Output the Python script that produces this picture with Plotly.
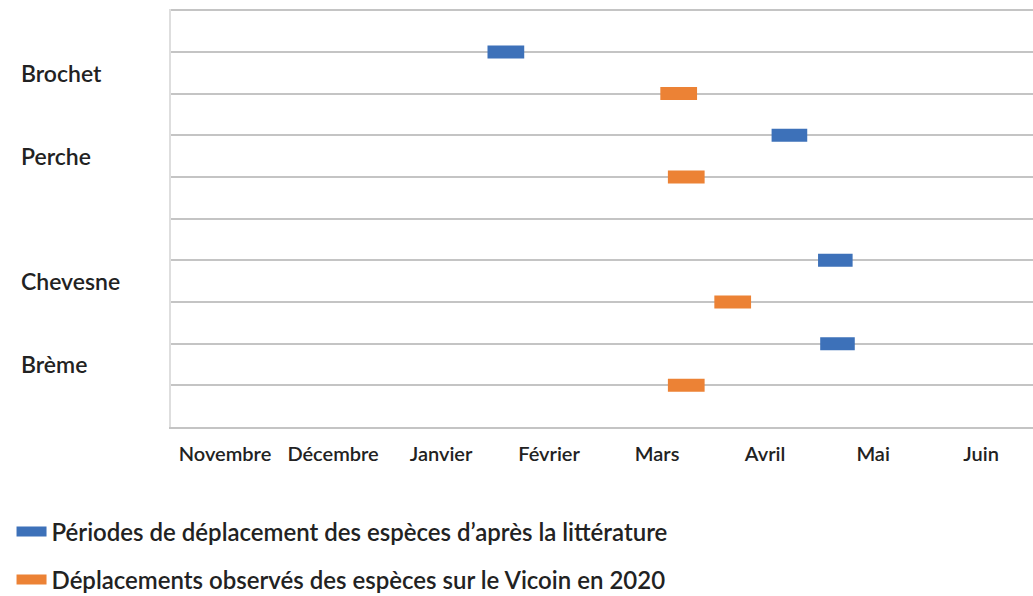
import plotly.graph_objects as go

# Months shown on the horizontal axis (one band per month, Nov -> Jun)
months = ["Novembre", "Décembre", "Janvier", "Février", "Mars", "Avril", "Mai", "Juin"]

# Species, top to bottom
species = ["Brochet", "Perche", "Chevesne", "Brème"]

# Movement periods, in months counted from 1 November
lit_start = [2.93, 5.56, 5.99, 6.01]
lit_end = [3.27, 5.89, 6.31, 6.33]
obs_start = [4.53, 4.60, 5.03, 4.60]
obs_end = [4.87, 4.94, 5.37, 4.94]

lit_name = "Périodes de déplacement des espèces d’après la littérature"
obs_name = "Déplacements observés des espèces sur le Vicoin en 2020"

BLUE = "#3D71B9"
ORANGE = "#EC8235"
FONT = "Lato"
TEXT = "#222222"

# Row layout: two rows per species, with an empty row after Perche
n_rows = 10
lit_row, obs_row = [], []
pos = n_rows - 1
for sp in species:
    lit_row.append(pos)
    obs_row.append(pos - 1)
    pos -= 2
    if sp == "Perche":
        pos -= 1


def segments(starts, ends, rows):
    xs, ys = [], []
    for s, e, r in zip(starts, ends, rows):
        xs += [s, e, None]
        ys += [r, r, None]
    return xs, ys


fig = go.Figure()

lx, ly = segments(lit_start, lit_end, lit_row)
fig.add_trace(go.Scatter(
    x=lx, y=ly, mode="lines", name=lit_name,
    line=dict(color=BLUE, width=13), legend="legend", hoverinfo="skip",
))
ox, oy = segments(obs_start, obs_end, obs_row)
fig.add_trace(go.Scatter(
    x=ox, y=oy, mode="lines", name=obs_name,
    line=dict(color=ORANGE, width=13), legend="legend2", hoverinfo="skip",
))

# Species names sit between their two rows
for sp, a, b in zip(species, lit_row, obs_row):
    fig.add_annotation(
        x=-0.176, xref="paper", y=(a + b) / 2, yref="y",
        text=sp, showarrow=False, xanchor="left", yanchor="middle",
        font=dict(family=FONT, size=23, color=TEXT, weight=600),
    )

legend_style = dict(
    orientation="v", xanchor="left", yanchor="middle",
    font=dict(family=FONT, size=24, color=TEXT, weight=600),
    bgcolor="rgba(0,0,0,0)", borderwidth=0,
)

fig.update_layout(
    width=1033, height=596,
    margin=dict(l=171, r=0, t=9, b=169, autoexpand=False),
    paper_bgcolor="white", plot_bgcolor="white",
    showlegend=True,
    legend=dict(x=-0.185, y=-0.251, **legend_style),
    legend2=dict(x=-0.185, y=-0.366, **legend_style),
    xaxis=dict(
        range=[0, 7.98],
        tickmode="array",
        tickvals=[i + 0.5 for i in range(len(months))],
        ticktext=months,
        showgrid=False, zeroline=False,
        showline=True, linecolor="#c4c4c4", linewidth=1.5,
        ticks="", ticklabelstandoff=8,
        tickfont=dict(family=FONT, size=20, color=TEXT, weight=600),
        fixedrange=True,
    ),
    yaxis=dict(
        range=[0, n_rows + 0.03],
        tick0=0, dtick=1,
        showticklabels=False,
        showgrid=True, gridcolor="#c4c4c4", gridwidth=1.5,
        zeroline=False,
        showline=True, linecolor="#dedede", linewidth=1.5,
        fixedrange=True,
    ),
)

fig.write_html("out.html")
